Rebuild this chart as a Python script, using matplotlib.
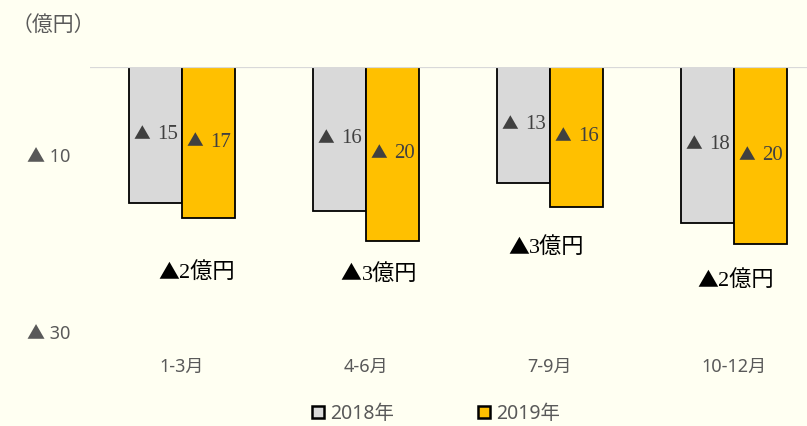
import matplotlib
matplotlib.use("Agg")
import matplotlib.pyplot as plt
from matplotlib.patches import Patch
from matplotlib.offsetbox import TextArea, HPacker, AnnotationBbox
import numpy as np

# 四半期ごとの損失額（億円）
categories = ["1-3月", "4-6月", "7-9月", "10-12月"]
series_names = ["2018年", "2019年"]
loss_2018 = [15.4, 16.3, 13.2, 17.7]
loss_2019 = [17.1, 19.7, 15.9, 20.1]
y_ticks = [10, 30]

# 差額ラベルの配置（カテゴリ中心からのずれ、縦位置）
diff_dx = [0.08, 0.07, -0.02, 0.01]
diff_y = [23.2, 23.4, 20.4, 24.1]

bg = "#FFFFF2"
gray = "#D9D9D9"
gold = "#FFC000"
text_gray = "#595959"

sans = ["Noto Sans", "Noto Sans CJK JP", "DejaVu Sans"]
serif = ["Liberation Serif", "Noto Sans CJK JP"]
mark = ["Noto Sans CJK JP", "DejaVu Sans"]

fig = plt.figure(figsize=(8.07, 4.26), dpi=100, facecolor=bg)
ax = fig.add_axes([90 / 807, 1 - 332 / 426, 736 / 807, (332 - 66.5) / 426])
ax.set_facecolor(bg)

x = np.arange(len(categories))
w = 53 / 184
v18 = -np.array(loss_2018)
v19 = -np.array(loss_2019)
ax.bar(x - w / 2, v18, width=w, color=gray, edgecolor="black", linewidth=1.3, zorder=2)
ax.bar(x + w / 2, v19, width=w, color=gold, edgecolor="black", linewidth=1.3, zorder=2)

ax.axhline(0, color=gray, linewidth=1.6, zorder=3)

ax.set_xlim(-0.5, len(categories) - 0.5)
ax.set_ylim(-30, 0)
for s in ax.spines.values():
    s.set_visible(False)

ax.set_yticks([-t for t in y_ticks])
ax.set_yticklabels([f"▲ {t}" for t in y_ticks], family=sans, fontsize=13, color=text_gray)
ax.tick_params(axis="y", length=0, pad=14)
ax.set_xticks(x)
ax.set_xticklabels(categories, family=sans, fontsize=13, color=text_gray)
ax.tick_params(axis="x", length=0, pad=19)


def tri_label(xv, yv, body, size, color, tri_size, sep):
    parts = [TextArea("▲", textprops=dict(family=mark, fontsize=tri_size, color=color)),
             TextArea(body, textprops=dict(family=serif, fontsize=size, color=color))]
    box = HPacker(children=parts, align="baseline", pad=0, sep=sep)
    ab = AnnotationBbox(box, (xv, yv), xycoords="data", frameon=False,
                        box_alignment=(0.5, 0.5), pad=0, zorder=4)
    ax.add_artist(ab)


# 棒中央の値ラベル
for xs, vals in ((x - w / 2, loss_2018), (x + w / 2, loss_2019)):
    for xi, v in zip(xs, vals):
        tri_label(xi, -v / 2, f"{round(v)}", 15, "#404040", 12, 5)

# 前年差ラベル
for i, (a, b) in enumerate(zip(loss_2018, loss_2019)):
    tri_label(x[i] + diff_dx[i], -diff_y[i], f"{round(b - a)}億円", 16, "black", 15, 0)

fig.text(12 / 807, 1 - 25 / 426, "（億円）", ha="left", va="center",
         family=["Noto Sans CJK JP"], fontsize=15, color=text_gray)

handles = [Patch(facecolor=gray, edgecolor="black", linewidth=1.8),
           Patch(facecolor=gold, edgecolor="black", linewidth=1.8)]
leg = fig.legend(handles, series_names, loc="center", bbox_to_anchor=(436 / 807, 1 - 414 / 426),
                 ncol=2, frameon=False, handlelength=0.62, handleheight=0.62, handletextpad=0.3,
                 columnspacing=4.3, prop={"family": sans, "size": 14})
for t in leg.get_texts():
    t.set_color(text_gray)

fig.savefig("out.png", dpi=100, facecolor=bg)
